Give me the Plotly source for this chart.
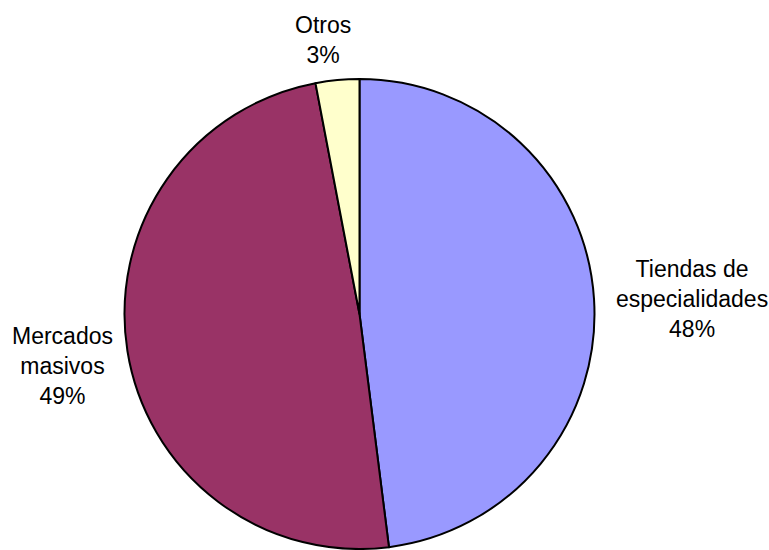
import plotly.graph_objects as go

labels = ["Tiendas de<br>especialidades", "Mercados<br>masivos", "Otros"]
values = [48, 49, 3]
colors = ["#9999FF", "#993366", "#FFFFCC"]

W, H = 769, 550
cx, cy, r = 359.5, 314, 235

fig = go.Figure(go.Pie(
    labels=labels, values=values, sort=False, direction="clockwise", rotation=0,
    marker=dict(colors=colors, line=dict(color="black", width=2)),
    textinfo="none", hoverinfo="label+percent", showlegend=False,
    domain=dict(x=[(cx - r) / W, (cx + r) / W], y=[(H - cy - r) / H, (H - cy + r) / H]),
))

label_pos = [(692, 299), (62, 366), (323, 40)]
total = sum(values)
for lab, v, (x, y) in zip(labels, values, label_pos):
    fig.add_annotation(x=x / W, y=1 - y / H, xref="paper", yref="paper",
                       text=f"{lab}<br>{round(100 * v / total)}%", showarrow=False,
                       xanchor="center", yanchor="middle", align="center",
                       font=dict(family="Liberation Sans, Arial", size=23, color="black"))

fig.update_layout(width=W, height=H, margin=dict(l=0, r=0, t=0, b=0),
                  paper_bgcolor="white", plot_bgcolor="white")
fig.write_html("out.html")
